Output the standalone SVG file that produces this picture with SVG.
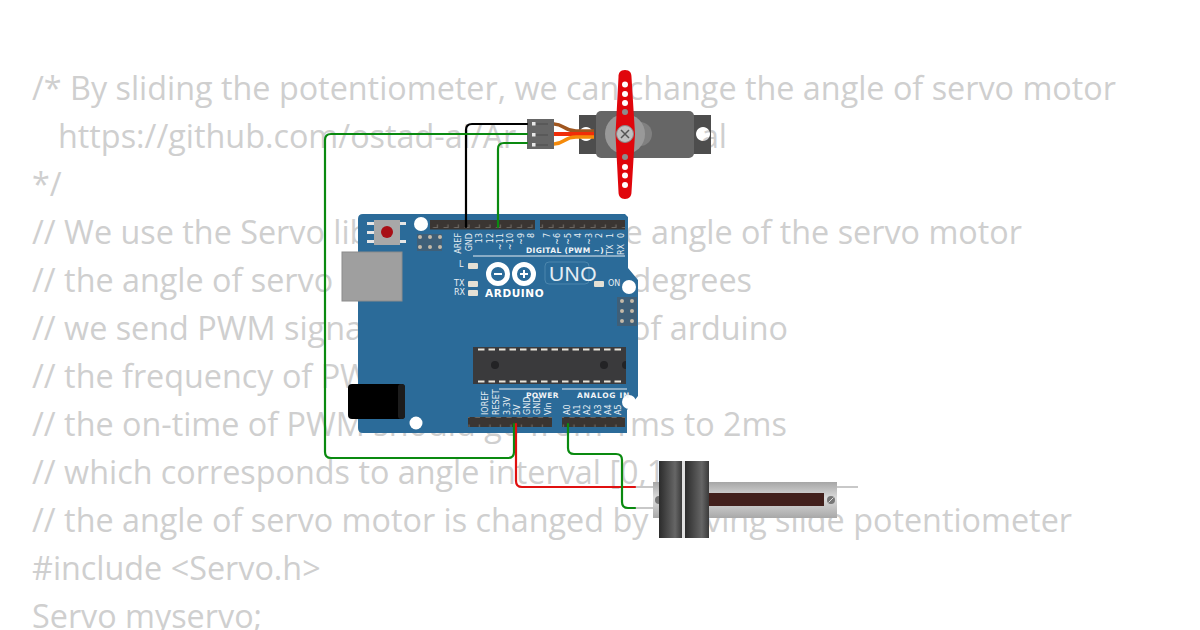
<svg xmlns="http://www.w3.org/2000/svg" width="1200" height="630" viewBox="0 0 1200 630">
<style>
.code{font-family:"Open Sans","Noto Sans",sans-serif;font-size:32.33px;fill:#cfcfcf}
.end{text-anchor:end}
.pin{font-family:"DejaVu Sans",sans-serif;font-size:8px;fill:#e8eef3}
.up{text-anchor:end}
.pinb{font-family:"DejaVu Sans",sans-serif;font-size:7.5px;font-weight:bold;fill:#f2f5f8;letter-spacing:.35px}
.wire{fill:none;stroke-width:2.2;stroke-linecap:round}
.hole{fill:#ffffff}
</style>
<defs>
<linearGradient id="potBody" x1="0" y1="0" x2="0" y2="1"><stop offset="0" stop-color="#a6a6a6"/><stop offset=".45" stop-color="#dcdcdc"/><stop offset="1" stop-color="#a8a8a8"/></linearGradient>
<linearGradient id="knob" x1="0" y1="0" x2="1" y2="0"><stop offset="0" stop-color="#2b2b2b"/><stop offset=".7" stop-color="#666666"/><stop offset="1" stop-color="#3a3a3a"/></linearGradient>
<pattern id="hp" width="10.5" height="10" patternUnits="userSpaceOnUse"><rect width="10.5" height="10" fill="#3a3532"/><path d="M2.500 7.500h4.500v-3" fill="none" stroke="#6b6660" stroke-width="1.200"/></pattern>
</defs>
<rect width="1200" height="630" fill="#ffffff"/>
<g id="code">
<text class="code" x="32" y="100">/* By sliding the potentiometer, we can change the angle of servo motor</text>
<text class="code" x="58" y="148">https://github.com/ostad-ai/Ar</text>
<text class="code end" x="727" y="148">al</text>
<text class="code" x="32" y="196">*/</text>
<text class="code" x="32" y="244">// We use the Servo lib</text>
<text class="code end" x="1022" y="244">e angle of the servo motor</text>
<text class="code" x="32" y="292">// the angle of servo</text>
<text class="code end" x="752" y="292">degrees</text>
<text class="code" x="32" y="340">// we send PWM signa</text>
<text class="code end" x="788" y="340">of arduino</text>
<text class="code" x="32" y="388">// the frequency of PW</text>
<text class="code" x="32" y="436">// the on-time of PWM should go from 1ms to 2ms</text>
<text class="code" x="32" y="484">// which corresponds to angle interval [0,1</text>
<text class="code" x="32" y="532">// the angle of servo motor is changed by</text>
<text class="code end" x="1072" y="532">ving slide potentiometer</text>
<text class="code" x="32" y="580">#include &lt;Servo.h&gt;</text>
<text class="code" x="32" y="628">Servo myservo;</text>
</g>
<g id="arduino">
<path d="M358 219q0-5 5-5H625l3 3V268l10 12V396l-11 14V433H363q-5 0-5-5Z" fill="#2b6b99"/>
<rect x="342" y="252" width="60" height="49" fill="#9f9f9f" stroke="#8c8c8c"/>
<rect x="348" y="384" width="57" height="35" rx="4" fill="#000000"/>
<rect x="398" y="384" width="7" height="35" rx="3" fill="#1c1c1c"/>
<rect x="430" y="220" width="105" height="9.500" fill="url(#hp)"/>
<rect x="540" y="220" width="85" height="9.500" fill="url(#hp)"/>
<rect x="468" y="417" width="84" height="10" fill="url(#hp)"/>
<rect x="562" y="417" width="63" height="10" fill="url(#hp)"/>
<circle class="hole" cx="421" cy="224" r="7"/>
<circle class="hole" cx="629" cy="287" r="7"/>
<circle class="hole" cx="629" cy="402" r="7"/>
<circle class="hole" cx="416" cy="423" r="6.500"/>
<rect x="367" y="222" width="7" height="3" fill="#e6e6e6"/><rect x="367" y="231" width="7" height="3" fill="#e6e6e6"/><rect x="367" y="240" width="7" height="3" fill="#e6e6e6"/>
<rect x="400" y="222" width="6" height="3" fill="#e6e6e6"/><rect x="400" y="240" width="6" height="3" fill="#e6e6e6"/>
<rect x="374" y="220" width="26" height="25" fill="#a8a8a8"/>
<circle cx="387" cy="232" r="6" fill="#a80f16"/>
<rect x="417" y="234" width="25" height="17" fill="#3f5f78"/>
<g fill="#c4b9a8"><circle cx="420" cy="237" r="2"/><circle cx="430" cy="237" r="2"/><circle cx="440" cy="237" r="2"/><circle cx="420" cy="247" r="2"/><circle cx="430" cy="247" r="2"/><circle cx="440" cy="247" r="2"/></g>
<rect x="617" y="297" width="20" height="29" fill="#3f5f78"/>
<g fill="#c4b9a8"><circle cx="622" cy="301" r="2"/><circle cx="632" cy="301" r="2"/><circle cx="622" cy="311" r="2"/><circle cx="632" cy="311" r="2"/><circle cx="622" cy="321" r="2"/><circle cx="632" cy="321" r="2"/></g>
<path d="M473 256H625" stroke="#e8eef3" fill="none"/>
<g class="pin">
<text class="up" transform="translate(461 233) rotate(-90)">AREF</text>
<text class="up" transform="translate(472 233) rotate(-90)">GND</text>
<text class="up" transform="translate(482 233) rotate(-90)">13</text>
<text class="up" transform="translate(493 233) rotate(-90)">12</text>
<text class="up" transform="translate(503 233) rotate(-90)">~11</text>
<text class="up" transform="translate(513 233) rotate(-90)">~10</text>
<text class="up" transform="translate(524 233) rotate(-90)">~9</text>
<text class="up" transform="translate(534 233) rotate(-90)">8</text>
<text class="up" transform="translate(550 233) rotate(-90)">7</text>
<text class="up" transform="translate(560 233) rotate(-90)">~6</text>
<text class="up" transform="translate(571 233) rotate(-90)">~5</text>
<text class="up" transform="translate(581 233) rotate(-90)">4</text>
<text class="up" transform="translate(592 233) rotate(-90)">~3</text>
<text class="up" transform="translate(602 233) rotate(-90)">2</text>
<text class="up" transform="translate(613 233) rotate(-90)">1</text>
<text transform="translate(613 255) rotate(-90)">TX</text>
<text class="up" transform="translate(624 233) rotate(-90)">0</text>
<text transform="translate(624 255) rotate(-90)">RX</text>
<text x="459" y="267">L</text>
<text x="454" y="286">TX</text>
<text x="454" y="295">RX</text>
<text x="608" y="286">ON</text>
<text transform="translate(488 415) rotate(-90)">IOREF</text>
<text transform="translate(499 415) rotate(-90)">RESET</text>
<text transform="translate(510 415) rotate(-90)">3.3V</text>
<text transform="translate(520 415) rotate(-90)">5V</text>
<text transform="translate(530 415) rotate(-90)">GND</text>
<text transform="translate(540 415) rotate(-90)">GND</text>
<text transform="translate(551 415) rotate(-90)">Vin</text>
<text transform="translate(570 415) rotate(-90)">A0</text>
<text transform="translate(580 415) rotate(-90)">A1</text>
<text transform="translate(590 415) rotate(-90)">A2</text>
<text transform="translate(601 415) rotate(-90)">A3</text>
<text transform="translate(611 415) rotate(-90)">A4</text>
<text transform="translate(621 415) rotate(-90)">A5</text>
</g>
<text class="pinb" x="526" y="253">DIGITAL (PWM ~)</text>
<text class="pinb" x="526" y="398">POWER</text>
<text class="pinb" x="577" y="398" style="letter-spacing:.7px">ANALOG IN</text>
<path d="M499 389H550M562 389H627" stroke="#e8eef3" fill="none"/>
<g fill="#e4e0d4"><rect x="468" y="263" width="10" height="6" rx="1"/><rect x="468" y="281" width="10" height="6" rx="1"/><rect x="468" y="290" width="10" height="6" rx="1"/><rect x="594" y="281" width="10" height="6" rx="1"/></g>
<g fill="none" stroke="#ffffff" stroke-width="5"><circle cx="498" cy="274" r="9.500"/><circle cx="524" cy="274" r="9.500"/></g>
<path d="M494 274h8M520 274h8M524 270v8" stroke="#ffffff" stroke-width="2" fill="none"/>
<text x="485" y="297" font-family="DejaVu Sans,sans-serif" font-size="10.500" font-weight="bold" fill="#ffffff" letter-spacing=".6">ARDUINO</text>
<rect x="545" y="262" width="44" height="22" rx="4" fill="none" stroke="#4c86ad"/>
<text x="549" y="281" font-family="Liberation Sans,sans-serif" font-size="21" fill="#e4edf3" letter-spacing=".4">UNO</text>
<rect x="473" y="347" width="153" height="37" fill="#3a3a3c"/>
<path d="M478 349.500H624M478 381.500H624" stroke="#e8e4da" stroke-width="2.200" stroke-dasharray="6.500 4" fill="none"/>
<circle cx="495" cy="365" r="4" fill="#232325"/>
<circle cx="604" cy="365" r="4" fill="#232325"/>
<path d="M626 361a4 4 0 0 0 0 8Z" fill="#232325"/>
</g>
<g id="servo">
<path fill-rule="evenodd" d="M579 115H711V154H579ZM586 127a7 7 0 1 0 .01 0ZM703 127a7 7 0 1 0 .01 0Z" fill="#4d4d4d"/>
<rect x="596" y="111" width="98" height="47" rx="5" fill="#666666"/>
<circle cx="640" cy="134" r="12" fill="#808080"/>
<circle cx="625" cy="134" r="20" fill="#999999"/>
<path d="M554 124c10 0 10 7 22 7h18" fill="none" stroke="#a0561f" stroke-width="3.500"/>
<path d="M554 134h40" fill="none" stroke="#f02c08" stroke-width="4"/>
<path d="M554 144c10 0 10-7 22-7h18" fill="none" stroke="#f58a0a" stroke-width="3.500"/>
<path d="M625 70c5 0 6.500 3 6.500 7l3.500 57-3.500 58c0 4-2 7-6.500 7s-6.500-3-6.500-7l-3-58 3-57c0-4 1.500-7 6.500-7Z" fill="#e0060c"/>
<g fill="#ffffff"><circle cx="625" cy="84.500" r="3"/><circle cx="625" cy="94" r="3"/><circle cx="625" cy="103" r="3"/><circle cx="625" cy="157" r="3" fill="#8c8c8c"/><circle cx="625" cy="112" r="3" fill="#8c8c8c"/><circle cx="625" cy="167" r="3"/><circle cx="625" cy="175.500" r="3"/><circle cx="625" cy="185" r="3"/></g>
<circle cx="625" cy="134" r="8.500" fill="#c0c0c0" stroke="#888888"/>
<path d="M621 130l8 8M629 130l-8 8" stroke="#555555" stroke-width="1.500"/>
<rect x="527" y="119" width="27" height="30" fill="#666666"/>
<g fill="#e8e8e8"><rect x="532" y="122" width="3.500" height="3.500"/><rect x="532" y="133" width="3.500" height="3.500"/><rect x="532" y="143" width="3.500" height="3.500"/></g>
<path d="M536 124h12M536 135h12M536 145h12" stroke="#4d4d4d" fill="none"/>
</g>
<g id="potentiometer">
<path d="M635 487H653M635 508H653M837 487H858" stroke="#c8c8c8" stroke-width="2" fill="none"/>
<rect x="653" y="482" width="184" height="36" fill="url(#potBody)"/>
<rect x="700" y="493" width="124" height="13" fill="#42201c"/>
<circle cx="659" cy="500" r="4" fill="#777777"/>
<circle cx="831" cy="500" r="4" fill="#777777"/>
<path d="M828.500 502.500l5-5" stroke="#dddddd"/>
<rect x="682" y="461" width="3" height="77" fill="#e0e0e0"/>
<rect x="659" y="461" width="23" height="77" fill="url(#knob)"/>
<rect x="685" y="461" width="24" height="77" fill="url(#knob)"/>
</g>
<g id="connectors">
<path class="wire" stroke="#000000" d="M466 227V130q0-6 6-6H527"/>
<path class="wire" stroke="#0a8a10" d="M498 227V149q0-6 6-6H527"/>
<path class="wire" stroke="#0a8a10" d="M514 424V452q0 6-6 6H331q-6 0-6-6V140q0-6 6-6H527"/>
<path class="wire" stroke="#e01010" d="M516 424V481q0 6 6 6H635"/>
<path class="wire" stroke="#0a8a10" d="M568 424V448q0 6 6 6H616q6 0 6 6V502q0 6 6 6H635"/>
</g>
</svg>
